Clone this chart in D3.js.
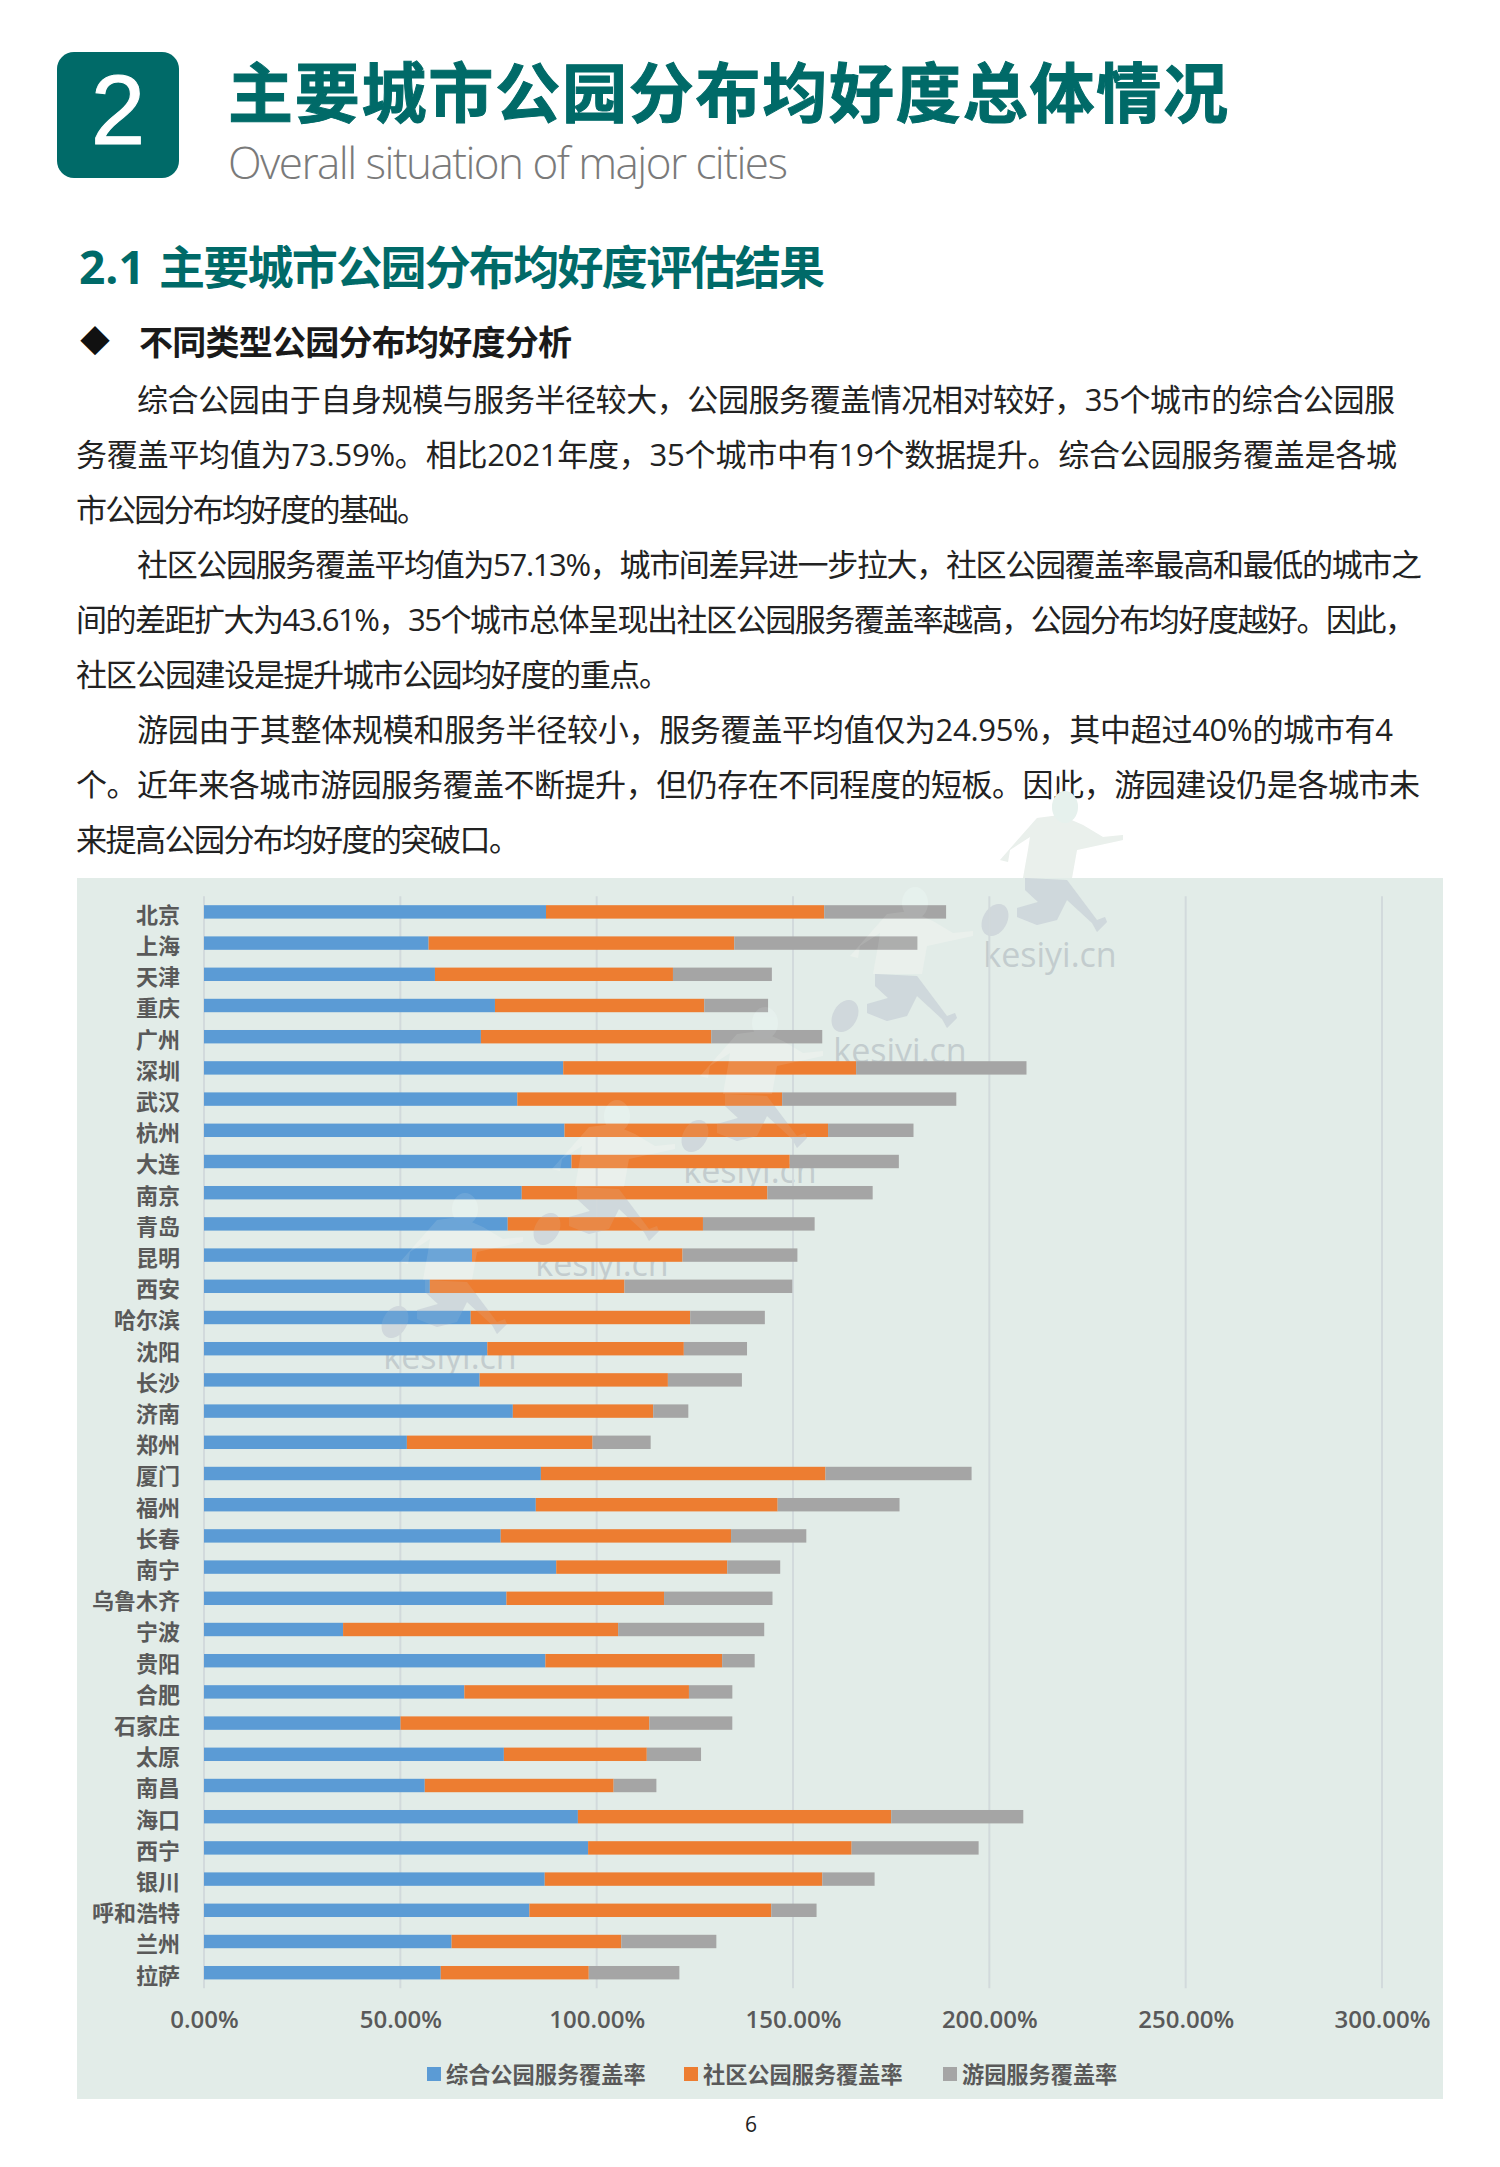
<!DOCTYPE html>
<html lang="zh-CN">
<head>
<meta charset="utf-8">
<title>主要城市公园分布均好度</title>
<script src="https://cdn.jsdelivr.net/npm/d3@7"></script>
<style>
  html, body { margin: 0; padding: 0; background: #fff; }
  svg { display: block; }
  text { font-family: "Open Sans", "Noto Sans CJK SC", sans-serif; }
</style>
</head>
<body>
<svg id="page" width="1500" height="2167"></svg>
<script>
// -----------------------------
// Data
// -----------------------------
const cities = ["北京", "上海", "天津", "重庆", "广州", "深圳", "武汉", "杭州", "大连", "南京", "青岛", "昆明",
  "西安", "哈尔滨", "沈阳", "长沙", "济南", "郑州", "厦门", "福州", "长春", "南宁", "乌鲁木齐", "宁波",
  "贵阳", "合肥", "石家庄", "太原", "南昌", "海口", "西宁", "银川", "呼和浩特", "兰州", "拉萨"];

const comprehensive = [87.10, 57.20, 58.82, 74.10, 70.52, 91.48, 79.79, 91.81, 93.60, 80.92, 77.35, 68.25,
  57.52, 67.92, 72.15, 70.20, 78.65, 51.67, 85.80, 84.50, 75.56, 89.70, 77.02, 35.42,
  86.94, 66.30, 50.05, 76.37, 56.22, 95.22, 97.82, 86.77, 82.87, 63.05, 60.29];

const community = [70.85, 77.84, 60.61, 53.30, 58.66, 74.59, 67.44, 67.11, 55.57, 62.56, 49.72, 53.62,
  49.56, 55.90, 50.05, 47.94, 35.75, 47.29, 72.47, 61.59, 58.66, 43.55, 40.14, 70.04,
  45.01, 57.20, 63.37, 36.40, 48.10, 79.79, 67.11, 70.69, 61.59, 43.22, 37.70];

const garden = [31.04, 46.64, 25.19, 16.25, 28.27, 43.39, 44.36, 21.77, 27.79, 26.81, 28.44, 29.25,
  42.74, 19.01, 16.09, 18.85, 8.94, 14.79, 37.21, 31.04, 19.17, 13.49, 27.62, 37.21,
  8.29, 11.05, 21.12, 13.81, 10.89, 33.64, 32.34, 13.32, 11.54, 24.21, 23.07];

const seriesNames = ["综合公园服务覆盖率", "社区公园服务覆盖率", "游园服务覆盖率"];
const xTicks = [0, 50, 100, 150, 200, 250, 300];

const bodyLines = [
  "综合公园由于自身规模与服务半径较大，公园服务覆盖情况相对较好，35个城市的综合公园服",
  "务覆盖平均值为73.59%。相比2021年度，35个城市中有19个数据提升。综合公园服务覆盖是各城",
  "市公园分布均好度的基础。",
  "社区公园服务覆盖平均值为57.13%，城市间差异进一步拉大，社区公园覆盖率最高和最低的城市之",
  "间的差距扩大为43.61%，35个城市总体呈现出社区公园服务覆盖率越高，公园分布均好度越好。因此，",
  "社区公园建设是提升城市公园均好度的重点。",
  "游园由于其整体规模和服务半径较小，服务覆盖平均值仅为24.95%，其中超过40%的城市有4",
  "个。近年来各城市游园服务覆盖不断提升，但仍存在不同程度的短板。因此，游园建设仍是各城市未",
  "来提高公园分布均好度的突破口。",
];
const bodyStarts = [137, 76, 76, 137, 76, 76, 137, 76, 76];
const bodyEnds = [1395, 1397, 428, 1422, 1416, 670, 1393, 1420, 520];

const watermarkSpots = [[450, 1359], [602, 1266], [750, 1173], [900, 1053], [1050, 957]];

// -----------------------------
// Layout
// -----------------------------
const TEAL = "#006a68";
const COLORS = ["#5b9bd5", "#ed7d31", "#a5a5a5"];
const LABEL_COLOR = "#595959";

const panel = { x: 77, y: 878, w: 1366, h: 1221 };
const plot = { left: 204, right: 1382, top: 896.3, bottom: 1988.3 };

const svg = d3.select("#page");

function addText(x, y, str, size, weight, fill, length) {
  const t = svg.append("text")
    .attr("x", x)
    .attr("y", y)
    .attr("dominant-baseline", "central")
    .style("font-size", `${size}px`)
    .style("font-weight", weight)
    .style("fill", fill)
    .text(str);
  if (length) t.attr("textLength", length).attr("lengthAdjust", "spacing");
  return t;
}

// -----------------------------
// Page heading
// -----------------------------
svg.append("rect")
  .attr("x", 57).attr("y", 52)
  .attr("width", 122).attr("height", 126)
  .attr("rx", 17)
  .attr("fill", TEAL);

addText(118, 110, "2", 98, 400, "#fff")
  .attr("text-anchor", "middle")
  .style("font-family", '"Liberation Sans", sans-serif')
  .style("stroke", "#fff")
  .style("stroke-width", 1);

addText(228, 92, "主要城市公园分布均好度总体情况", 65, 700, TEAL, 1000)
  .style("stroke", TEAL)
  .style("stroke-width", 1);
addText(228, 162, "Overall situation of major cities", 44, 300, "#7a7a7a", 560);

addText(79, 266, "2.1", 46, 700, TEAL);
addText(159, 266, "主要城市公园分布均好度评估结果", 46, 700, TEAL, 666);

addText(80, 340, "◆", 30, 400, "#111");
addText(139, 342, "不同类型公园分布均好度分析", 34, 700, "#1a1a1a", 433);

bodyLines.forEach((line, i) => {
  addText(bodyStarts[i], 399 + i * 55, line, 31, 400, "#222", bodyEnds[i] - bodyStarts[i]);
});

// -----------------------------
// Chart panel and watermarks
// -----------------------------
svg.append("rect")
  .attr("x", panel.x).attr("y", panel.y)
  .attr("width", panel.w).attr("height", panel.h)
  .attr("fill", "#e2ece8");

function drawRunner(parent, opacity) {
  const g = parent.append("g").attr("opacity", opacity);
  g.append("path")
    .attr("d", "M-50,-97 L-13,-139 L10,-142 L33,-132 L53,-120 L73,-122 L73,-117 L50,-112 L27,-107 L22,-79 L-27,-79 L-22,-107 L-20,-120 L-40,-107 L-42,-95 Z")
    .attr("fill", "#eaf0ec");
  g.append("path")
    .attr("d", "M-25,-79 L17,-77 L47,-37 L55,-40 L57,-35 L47,-25 L42,-34 L17,-57 L7,-37 L-13,-32 L-33,-40 L-33,-49 L-12,-55 L-25,-67 Z")
    .attr("fill", "#cfd8dc");
  g.append("ellipse")
    .attr("cx", -55).attr("cy", -37)
    .attr("rx", 12).attr("ry", 17)
    .attr("transform", "rotate(30,-55,-37)")
    .attr("fill", "#d0d8dc");
  g.append("ellipse")
    .attr("cx", 15).attr("cy", -150)
    .attr("rx", 13).attr("ry", 16)
    .attr("fill", "#e6f1ed");
}

const marksBelow = svg.append("g");
watermarkSpots.forEach(([wx, wy]) => {
  const g = marksBelow.append("g").attr("transform", `translate(${wx},${wy})`);
  drawRunner(g, 1);
  g.append("text")
    .attr("y", -3)
    .attr("text-anchor", "middle")
    .attr("dominant-baseline", "central")
    .style("font-size", "34px")
    .style("fill", "#c3ccce")
    .text("kesiyi.cn");
});

// -----------------------------
// Chart
// -----------------------------
const x = d3.scaleLinear().domain([0, 300]).range([plot.left, plot.right]);
const y = d3.scaleBand().domain(cities).range([plot.top, plot.bottom]).paddingInner(0.57).paddingOuter(0.285);

const rows = cities.map((city, i) => ({
  city,
  a: comprehensive[i],
  b: community[i],
  c: garden[i],
}));
const stacked = d3.stack().keys(["a", "b", "c"])(rows);

// gridlines
svg.append("g")
  .selectAll("line")
  .data(xTicks)
  .join("line")
  .attr("x1", (d) => x(d))
  .attr("x2", (d) => x(d))
  .attr("y1", plot.top)
  .attr("y2", plot.bottom)
  .attr("stroke", "#d2dadc")
  .attr("stroke-width", 2);

svg.append("g")
  .selectAll("g")
  .data(stacked)
  .join("g")
  .attr("fill", (d, i) => COLORS[i])
  .selectAll("rect")
  .data((d) => d)
  .join("rect")
  .attr("x", (d) => x(d[0]))
  .attr("y", (d) => y(d.data.city))
  .attr("width", (d) => x(d[1]) - x(d[0]))
  .attr("height", y.bandwidth());

const xAxis = d3.axisBottom(x)
  .tickValues(xTicks)
  .tickSize(0)
  .tickPadding(0)
  .tickFormat((d) => `${d.toFixed(2)}%`);

svg.append("g")
  .attr("transform", `translate(0,${plot.bottom + 23})`)
  .call(xAxis)
  .call((g) => g.select(".domain").remove())
  .call((g) => g.selectAll("text")
    .style("font-size", "24px")
    .style("font-weight", 600)
    .style("fill", LABEL_COLOR));

const yAxis = d3.axisLeft(y).tickSize(0).tickPadding(24);

// the labels sit a little below their bars in the original
svg.append("g")
  .attr("transform", `translate(${plot.left},3)`)
  .call(yAxis)
  .call((g) => g.select(".domain").remove())
  .call((g) => g.selectAll("text")
    .attr("dy", "0.36em")
    .style("font-size", "22px")
    .style("font-weight", 700)
    .style("fill", LABEL_COLOR));

// -----------------------------
// Legend
// -----------------------------
const legendX = [427, 684, 943];
seriesNames.forEach((name, i) => {
  svg.append("rect")
    .attr("x", legendX[i]).attr("y", 2067)
    .attr("width", 14).attr("height", 14)
    .attr("fill", COLORS[i]);
  addText(legendX[i] + 19, 2074, name, 22.2, 700, LABEL_COLOR);
});

addText(751, 2124, "6", 21, 400, "#222").attr("text-anchor", "middle");

// faint copy over the bars, the original watermark shows through them
const marksAbove = svg.append("g").style("pointer-events", "none");
watermarkSpots.forEach(([wx, wy]) => {
  const g = marksAbove.append("g").attr("transform", `translate(${wx},${wy})`);
  drawRunner(g, 0.12);
});
</script>
</body>
</html>
